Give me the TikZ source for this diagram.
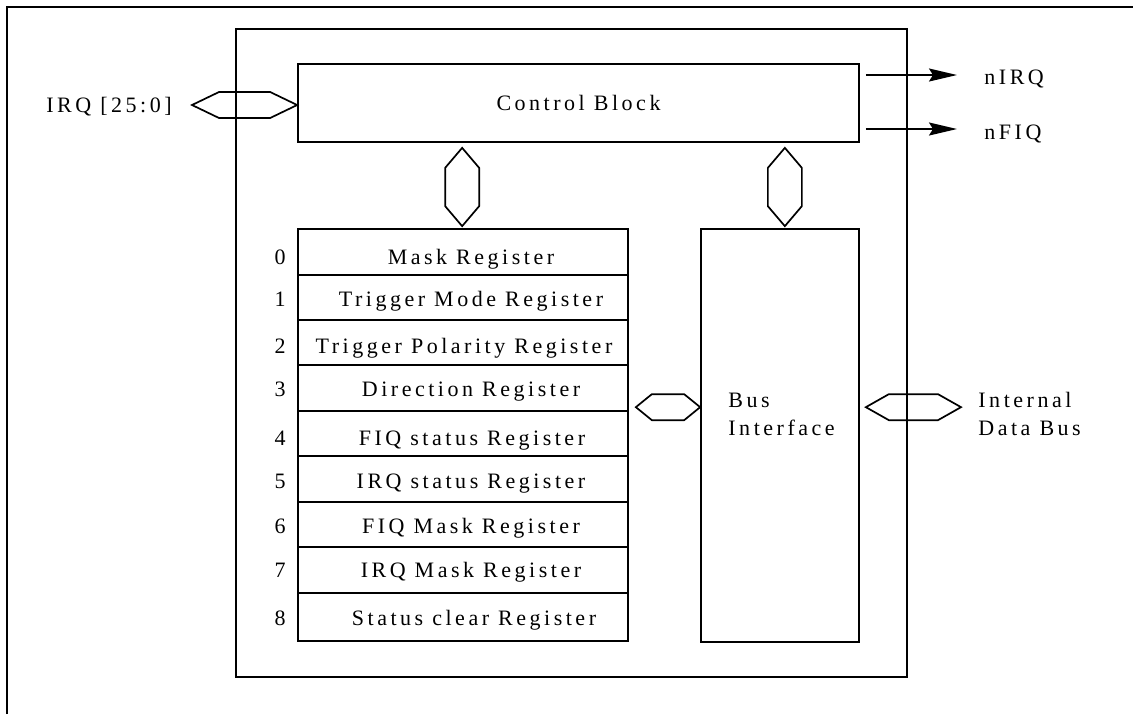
\documentclass[tikz,border=0pt]{standalone}
\usepackage{fontspec}
\setmainfont{Liberation Serif}[LetterSpace=16]
\usetikzlibrary{calc,fit,arrows.meta}
\begin{document}
\begin{tikzpicture}[x=0.5pt,y=-0.5pt,
  every node/.style={font=\fontsize{11pt}{14pt}\selectfont, inner sep=0pt},
  box/.style={draw, line width=0.85pt, inner sep=0pt},
  txt/.style={anchor=base},
  hbus/.style={line width=0.85pt, to path={let \p1=(\tikztostart), \p2=(\tikztotarget) in
      (\x1,\y1) -- (\x1+#1,\y1+6.5pt) -- (\x2-#1,\y1+6.5pt) -- (\x2,\y1) -- (\x2-#1,\y1-6.5pt) -- (\x1+#1,\y1-6.5pt) -- cycle}},
  vbus/.style={line width=0.85pt, to path={let \p1=(\tikztostart), \p2=(\tikztotarget) in
      (\x1,\y1) -- (\x1+8.5pt,\y1-10pt) -- (\x1+8.5pt,\y2+10pt) -- (\x1,\y2) -- (\x1-8.5pt,\y2+10pt) -- (\x1-8.5pt,\y1-10pt) -- cycle}},
  sig/.style={line width=0.85pt, -{Stealth[length=14pt,width=6.5pt,inset=2pt]}},
  frame/.style={line width=1.3pt}]
\useasboundingbox (0,0) rectangle (1133,714);
\draw[frame] (7,714) -- (7,7) -- (1133,7);

\node[box, fit={(236,29) (907,677)}] (chip) {};
\node[box, minimum width=280.5pt, minimum height=39pt, text height=7.2pt, text depth=0pt] (cb) at (578.5,103) {Control Block};

\foreach \i/\ya/\yb/\yc/\xt/\lbl in {0/229/275/264/471/Mask Register,
    1/275/320/306/471/Trigger Mode Register,
    2/320/365/353/464/Trigger Polarity Register,
    3/365/411/396/471/Direction Register,
    4/411/456/445/472/FIQ status Register,
    5/456/502/488/471/IRQ status Register,
    6/502/547/533/471/FIQ Mask Register,
    7/547/593/577/471/IRQ Mask Register,
    8/593/641/625/474/Status clear Register} {
  \node[box, fit={(298,\ya) (628,\yb)}] (r\i) {};
  \node[txt] (t\i) at (\xt,\yc) {\lbl};
  \node[txt] (n\i) at (280,\yc) {\i};
}

\node[box, fit={(701,229) (859,642)}] (bif) {};
\node[anchor=north west, align=left] (bift) at (728,393) {Bus\\Interface};
\node[anchor=north west, align=left] (idb) at (978,392) {Internal\\Data Bus};

\node[anchor=base west] (irql) at (46,112) {IRQ [25:0]};
\node[anchor=base west] (nirq) at (984,84) {nIRQ};
\node[anchor=base west] (nfiq) at (984,139) {nFIQ};

\coordinate (irqin) at (192,105);
\draw[hbus=13.5pt] (irqin) to (cb.west);

\coordinate (nirqend) at (957,75);
\coordinate (nfiqend) at (957,129);
\draw[sig] ($(cb.east)+(6,-28)$) -- (nirqend);
\draw[sig] ($(cb.east)+(6,26)$) -- (nfiqend);

\draw[vbus] ($(cb.south west)+(165,5)$) to ($(r0.north)+(0,-2)$);
\draw[vbus] ($(cb.south east)+(-75,5)$) to ($(bif.north)+(4,-2)$);

\draw[hbus=8pt] ($(r4.north east)+(7,-3)$) to (bif.west);
\coordinate (dbus) at (961,408);
\draw[hbus=11.5pt] ($(bif.east |- r4.north)+(6,-3)$) to (dbus);
\end{tikzpicture}
\end{document}
